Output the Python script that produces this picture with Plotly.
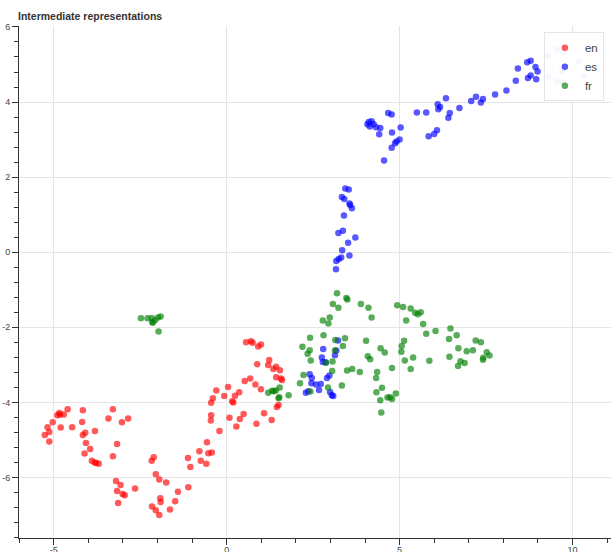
import plotly.graph_objects as go

TITLE = "Intermediate representations"
LANGS = ["en", "es", "fr"]
COLORS = ["red", "blue", "green"]

en_x = [-5.26, -5.18, -5.13, -5.13, -5.03, -4.90, -4.84, -4.82, -4.80, -4.71, -4.60, -4.47,
        -4.16, -4.18, -4.16, -4.09, -4.07, -4.11, -3.95, -3.90, -3.82, -3.78, -3.70, -3.81,
        -3.42, -3.29, -3.03, -2.85, -3.17, -3.29, -3.20, -3.07, -3.17, -3.01, -2.95, -3.14,
        -2.65, -2.17, -2.11, -2.05, -1.95, -1.75, -2.16, -2.05, -1.95, -1.92, -1.91, -1.64,
        -1.49, -1.41, -1.11, -1.12, -1.05, -0.79, -0.75, -0.59, -0.57, -0.53, -0.43, -0.21,
        -0.46, -0.45, -0.45, -0.40, -0.30, -0.07, 0.04, 0.08, 0.16, 0.19, 0.24, 0.36,
        0.28, 0.38, 0.49, 0.52, 0.83, 0.86, 0.99, 1.08, 1.30, 1.45, 1.50,
        0.56, 0.70, 0.75, 0.91, 0.99, 1.23, 1.20, 0.88, 1.43, 1.35, 1.54, 1.43, 1.57, 1.60, 0.68]
en_y = [-4.87, -4.66, -4.79, -5.04, -4.53, -4.34, -4.28, -4.33, -4.67, -4.32, -4.18, -4.66,
        -4.21, -4.52, -4.87, -4.81, -5.08, -5.36, -5.24, -5.55, -5.60, -5.61, -5.63, -4.76,
        -4.43, -4.18, -4.53, -4.43, -5.11, -5.43, -6.09, -6.20, -6.36, -6.44, -6.47, -6.68,
        -6.29, -5.55, -5.46, -5.91, -6.05, -6.13, -6.77, -6.87, -7.00, -6.55, -6.65, -6.85,
        -6.63, -6.38, -6.26, -5.48, -5.72, -5.30, -5.55, -5.63, -5.06, -5.35, -5.33, -4.76,
        -4.48, -4.34, -4.01, -3.89, -3.68, -3.83, -3.59, -4.41, -3.97, -4.00, -3.82, -3.73,
        -4.64, -4.44, -4.31, -3.43, -3.52, -4.57, -3.65, -4.29, -4.47, -4.12, -4.07,
        -2.40, -2.37, -2.41, -2.51, -2.46, -2.87, -3.00, -2.98, -3.05, -3.11, -3.14, -3.33, -3.36, -3.40, -3.36]

es_x = [6.34, 6.17, 6.45, 6.73, 7.07, 7.21, 7.35, 7.41, 7.76, 8.09, 8.36, 8.42, 8.69, 8.79,
        8.93, 8.99, 8.71, 8.79, 8.95, 9.28, 9.31, 9.55, 9.73, 10.19, 9.70, 9.55, 9.73, 10.33,
        6.10, 6.12, 6.41, 5.77, 5.50, 4.67, 4.77, 5.03, 4.78, 5.00, 4.91, 4.87, 4.77, 4.55,
        4.41, 4.44, 4.32, 4.25, 4.19, 4.11, 4.07, 4.14, 5.84, 6.00, 6.08,
        3.43, 3.53, 3.33, 3.40, 3.55, 3.57, 3.62, 3.39, 3.23, 3.36, 3.72, 3.51, 3.34, 3.55,
        3.31, 3.24, 3.17, 3.16,
        2.79, 3.22, 3.17, 3.13, 2.75, 2.78, 2.86, 2.40, 2.46, 2.97, 2.90, 2.45, 2.58, 2.72,
        2.67, 2.29, 2.36, 2.99, 3.04, 3.08]
es_y = [4.10, 3.87, 3.71, 3.84, 4.03, 4.14, 3.99, 4.08, 4.20, 4.31, 4.57, 4.89, 5.06, 5.10,
        4.93, 4.81, 4.64, 4.71, 4.61, 5.23, 4.66, 5.40, 5.32, 5.08, 4.84, 4.55, 4.52, 4.68,
        3.94, 3.81, 3.58, 3.72, 3.72, 3.71, 3.67, 3.32, 3.19, 3.00, 2.95, 2.90, 2.78, 2.44,
        3.14, 3.31, 3.33, 3.41, 3.49, 3.47, 3.41, 3.35, 3.09, 3.15, 3.25,
        1.70, 1.67, 1.47, 1.42, 1.30, 1.26, 1.17, 0.98, 0.51, 0.57, 0.39, 0.25, 0.05, -0.09,
        -0.14, -0.18, -0.23, -0.45,
        -2.58, -2.35, -2.62, -2.74, -2.80, -2.92, -2.93, -3.25, -3.35, -3.28, -3.35, -3.49,
        -3.52, -3.51, -3.67, -3.74, -3.70, -3.72, -3.81, -3.83]

fr_x = [-2.48, -2.29, -2.17, -2.07, -2.14, -2.15, -1.99, -1.91, -1.97,
        3.19, 3.46, 3.49, 3.07, 3.23, 3.88, 4.10, 4.19, 2.98, 2.78, 2.94,
        4.93, 5.10, 5.32, 5.45, 5.53, 5.61, 5.19, 5.68, 5.77, 6.04, 6.47, 6.65, 6.43,
        7.20, 7.35, 6.70, 6.94, 7.12, 7.52, 7.60, 7.42, 7.41, 6.76, 6.88, 6.69, 6.44, 5.86,
        5.13, 5.06, 5.05, 5.15, 5.39, 5.32, 4.78, 4.57, 4.45, 4.03, 4.08, 4.15, 4.35, 4.32,
        4.49, 4.33, 4.44, 4.65, 4.72, 4.78, 4.89, 4.47, 3.85, 3.63, 3.48, 3.33,
        3.42, 3.36, 3.14, 3.13, 3.06, 2.87, 3.05, 2.93, 2.80, 2.41, 2.19, 2.40, 2.34, 2.43,
        2.22, 2.12, 2.42, 1.79, 1.53, 1.31, 1.36, 1.42, 1.20, 1.52, 1.50]
fr_y = [-1.76, -1.76, -1.75, -1.81, -1.88, -1.86, -1.74, -1.71, -2.11,
        -1.09, -1.22, -1.26, -1.38, -1.48, -1.38, -1.48, -1.74, -1.74, -1.82, -1.90,
        -1.41, -1.46, -1.50, -1.61, -1.65, -1.60, -1.82, -1.91, -2.17, -2.10, -2.03, -2.21, -2.31,
        -2.35, -2.40, -2.56, -2.64, -2.61, -2.66, -2.75, -2.81, -2.86, -2.90, -2.95, -3.03, -2.78, -2.89,
        -2.36, -2.50, -2.65, -2.88, -2.80, -3.11, -3.08, -2.67, -2.56, -2.36, -2.77, -2.85, -3.19, -3.35,
        -3.61, -3.73, -3.94, -3.87, -3.86, -3.91, -3.76, -4.27, -3.19, -3.11, -3.15, -3.55,
        -2.29, -2.50, -2.34, -2.62, -2.91, -2.94, -3.16, -3.60, -2.21, -2.28, -2.52, -2.61, -2.70, -2.88,
        -3.27, -3.49, -3.71, -3.81, -3.60, -3.69, -3.70, -3.68, -3.74, -3.86, -3.89]

X_TICKS = [-5, 0, 5, 10]
Y_TICKS = [-6, -4, -2, 0, 2, 4, 6]
X_RANGE = [-6.006, 11.113]
Y_RANGE = [-7.61, 6.025]

series = [(en_x, en_y), (es_x, es_y), (fr_x, fr_y)]

fig = go.Figure()
for name, color, (xs, ys) in zip(LANGS, COLORS, series):
    fig.add_trace(go.Scatter(
        x=xs, y=ys, mode="markers", name=name,
        marker=dict(color=color, size=6.5, opacity=0.65, line=dict(width=0)),
    ))

axis_common = dict(
    showgrid=True, gridcolor="#e5e5e5", gridwidth=1,
    zeroline=False, showline=True, linecolor="#333", linewidth=1,
    ticks="outside", ticklen=6, tickcolor="#333", tickwidth=1,
    tickfont=dict(family="Liberation Sans, Arial, sans-serif", size=9, color="#444"),
    automargin=False,
)

fig.update_xaxes(
    range=X_RANGE, tickmode="array", tickvals=X_TICKS,
    ticktext=[str(v) for v in X_TICKS],
    ticklabelstandoff=-3,
    minor=dict(tickmode="linear", tick0=0, dtick=1, ticks="outside", ticklen=4,
               tickcolor="#333", showgrid=False),
    **axis_common,
)
fig.update_yaxes(
    range=Y_RANGE, tickmode="array", tickvals=Y_TICKS,
    ticktext=[str(v) for v in Y_TICKS],
    minor=dict(tickmode="linear", tick0=0, dtick=0.4, ticks="outside", ticklen=4,
               tickcolor="#333", showgrid=False),
    **axis_common,
)

fig.update_layout(
    width=611, height=552,
    margin=dict(l=19, r=0, t=26, b=14, pad=0),
    paper_bgcolor="white", plot_bgcolor="white",
    template="none",
    title=dict(
        text="<b>" + TITLE + "</b>",
        x=18 / 611, xanchor="left", xref="container",
        y=1 - 16 / 552, yanchor="middle", yref="container",
        font=dict(family="Liberation Sans, Arial, sans-serif", size=10.5, color="#333"),
        pad=dict(l=0, r=0, t=0, b=0),
    ),
    legend=dict(
        x=0.988, xanchor="right", y=0.988, yanchor="top",
        bgcolor="rgba(255,255,255,0.95)", bordercolor="#e5e5e5", borderwidth=1,
        font=dict(family="Liberation Sans, Arial, sans-serif", size=11.5, color="#444"),
        traceorder="normal",
    ),
    showlegend=True,
)

fig.write_html("out.html")
